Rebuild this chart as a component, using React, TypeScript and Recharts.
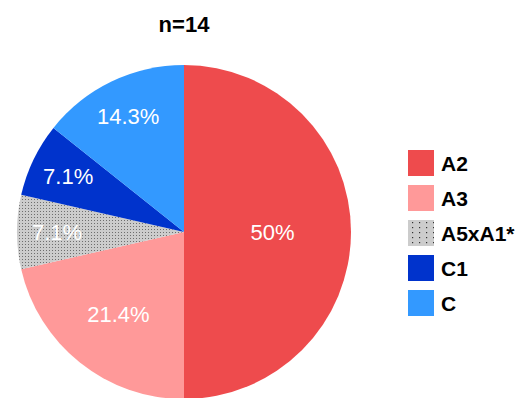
import React from 'react';
import { PieChart, Pie, Cell, Legend } from 'recharts';

const categories = ['A2', 'A3', 'A5xA1*', 'C1', 'C'];
const counts = [7, 3, 1, 1, 2];
const percentLabels = ['50%', '21.4%', '7.1%', '7.1%', '14.3%'];
const sampleSize = 14;

const COLORS = ['#EE4B4D', '#FF9999', 'url(#dotsPie)', '#0033CC', '#3399FF'];
const LEGEND_COLORS = ['#EE4B4D', '#FF9999', 'url(#dotsLegend)', '#0033CC', '#3399FF'];
// how far out each label sits, as a share of the radius
const LABEL_RADIUS = [0.53, 0.63, 0.76, 0.77, 0.77];

const pieData = categories.map((name, i) => ({ name, value: counts[i], label: percentLabels[i] }));

const RADIAN = Math.PI / 180;
const FONT = '"Liberation Sans", Arial, sans-serif';

const renderLabel = (props: any) => {
  const { cx, cy, midAngle, outerRadius, index } = props;
  const r = outerRadius * LABEL_RADIUS[index];
  const x = cx + r * Math.cos(-midAngle * RADIAN);
  const y = cy + r * Math.sin(-midAngle * RADIAN);
  return (
    <text x={x} y={y} fill="#fff" textAnchor="middle" dominantBaseline="central"
      style={{ fontSize: 22, fontFamily: FONT }}>
      {pieData[index].label}
    </text>
  );
};

const renderLegend = () => (
  <svg width={107} height={170} style={{ display: 'block', overflow: 'visible' }}>
    <defs>
      <pattern id="dotsLegend" width="7" height="5" patternUnits="userSpaceOnUse">
        <rect width="7" height="5" fill="#CCCCCC" />
        <rect x="4" y="2" width="1.2" height="1.2" fill="#333" />
      </pattern>
    </defs>
    {categories.map((c, i) => (
      <g key={c} transform={`translate(0, ${i * 35})`}>
        <rect width={26} height={26} fill={LEGEND_COLORS[i]} />
        <text x={33} y={13} dominantBaseline="central"
          style={{ fontSize: 21, fontWeight: 700, fontFamily: FONT }}>
          {c}
        </text>
      </g>
    ))}
  </svg>
);

export default function App() {
  return (
    <div style={{ position: 'absolute', left: 0, top: 0, width: 515, height: 398, background: '#fff', overflow: 'hidden' }}>
      <PieChart width={515} height={398} margin={{ top: 0, right: 0, bottom: 0, left: 0 }}>
        <defs>
          <pattern id="dotsPie" width="3" height="3" patternUnits="userSpaceOnUse">
            <rect width="3" height="3" fill="#CCCCCC" />
            <rect x="1" y="1" width="1" height="1" fill="#6E6E6E" />
          </pattern>
        </defs>
        <text x={184} y={32} textAnchor="middle"
          style={{ fontSize: 22, fontWeight: 700, fontFamily: FONT }}>
          n={sampleSize}
        </text>
        <Pie
          data={pieData}
          dataKey="value"
          nameKey="name"
          cx={184}
          cy={232}
          outerRadius={167}
          startAngle={90}
          endAngle={-270}
          stroke="none"
          label={renderLabel}
          labelLine={false}
          isAnimationActive={false}
        >
          {pieData.map((d, i) => (
            <Cell key={d.name} fill={COLORS[i]} />
          ))}
        </Pie>
        <Legend content={renderLegend} wrapperStyle={{ position: 'absolute', left: 408, top: 150, width: 107 }} />
      </PieChart>
    </div>
  );
}
